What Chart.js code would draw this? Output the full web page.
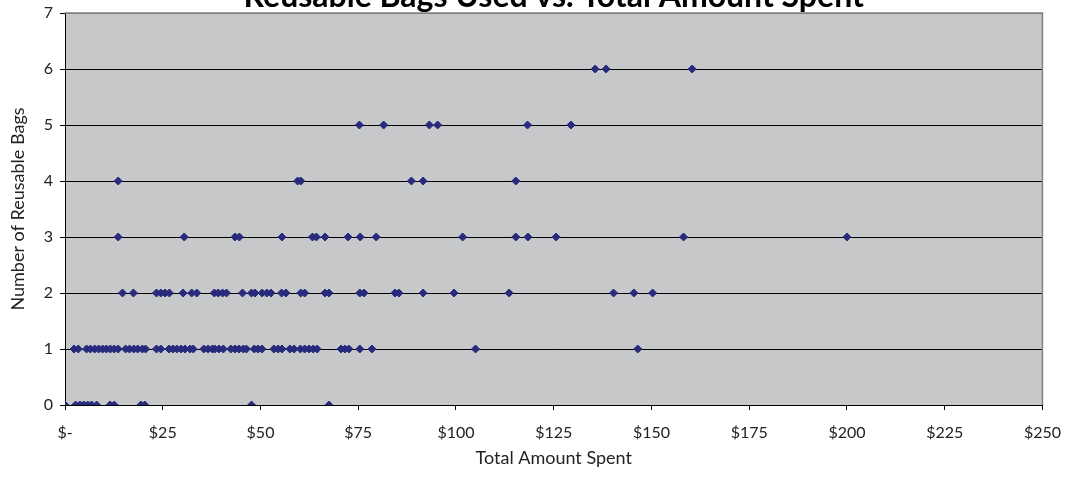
<!DOCTYPE html>
<html>
<head>
<meta charset="utf-8">
<script src="https://cdn.jsdelivr.net/npm/chart.js@4/dist/chart.umd.min.js"></script>
<style>
  html, body { margin: 0; padding: 0; background: #fff; overflow: hidden; }
  body { width: 1070px; height: 479px; position: relative; }
  #wrap { position: absolute; left: 0; top: -19px; width: 1074px; height: 498px; }
</style>
</head>
<body>
<div id="wrap"><canvas id="bags-chart"></canvas></div>
<script>
// amount spent ($) for each shopper, grouped by how many reusable bags they used
var bags0 = [0, 2.7, 3.8, 4.8, 5.8, 6.8, 8.1, 11.5, 12.6, 19.4, 20.4, 47.7, 67.5];
var bags1 = [2.3, 3.4, 5.5, 6.5, 7.6, 8.6, 9.6, 10.6, 11.6, 12.6, 13.6, 15.5, 16.5, 17.6, 18.6,
  19.8, 20.6, 23.4, 24.5, 26.6, 27.6, 28.6, 29.7, 30.7, 32, 32.8, 35.5, 36.6, 37.7, 38.3, 39.4,
  40.5, 42.4, 43.5, 44.5, 45.6, 46.4, 48.4, 49.4, 50.4, 53.4, 54.5, 55.5, 57.5, 58.6, 60.2, 61.3,
  62.4, 63.5, 64.5, 70.6, 71.6, 72.6, 75.4, 78.5, 105, 146.5];
var bags2 = [14.7, 17.5, 23.4, 24.5, 25.6, 26.7, 30.2, 32.4, 33.7, 38.2, 39.2, 40.3, 41.3, 45.4,
  47.7, 48.6, 50.4, 51.6, 52.7, 55.4, 56.5, 60.3, 61.3, 66.5, 67.5, 75.4, 76.5, 84.4, 85.4, 91.6,
  99.5, 113.6, 140.3, 145.5, 150.3];
var bags3 = [13.6, 30.5, 43.5, 44.6, 55.5, 63.3, 64.3, 66.5, 72.4, 75.5, 79.6, 101.7, 115.3,
  118.4, 125.6, 158.2, 200];
var bags4 = [13.6, 59.5, 60.3, 88.6, 91.6, 115.3];
var bags5 = [75.3, 81.5, 93.2, 95.3, 118.3, 129.4];
var bags6 = [135.6, 138.4, 160.4];

var bagGroups = [bags0, bags1, bags2, bags3, bags4, bags5, bags6];

var points = [];
bagGroups.forEach(function (amounts, count) {
  amounts.forEach(function (amt) {
    points.push({ x: amt, y: count });
  });
});

var FONT = "Lato, 'Open Sans', sans-serif";

// grey plot area + grey frame on top/right, like the old spreadsheet chart
var plotBackground = {
  id: "plotBackground",
  beforeDraw: function (chart) {
    var a = chart.chartArea, ctx = chart.ctx;
    ctx.save();
    ctx.fillStyle = "#c7c8ca";
    ctx.fillRect(a.left, a.top, a.right - a.left, a.bottom - a.top);
    ctx.restore();
  },
  afterDatasetsDraw: function (chart) {
    var a = chart.chartArea, ctx = chart.ctx;
    ctx.save();
    ctx.strokeStyle = "#808080";
    ctx.lineWidth = 1.5;
    ctx.beginPath();
    ctx.moveTo(a.left, a.top);
    ctx.lineTo(a.right, a.top);
    ctx.lineTo(a.right, a.bottom);
    ctx.stroke();
    ctx.restore();
  }
};

var ctx = document.getElementById("bags-chart").getContext("2d");
window.bagsChart = new Chart(ctx, {
  type: "scatter",
  data: {
    datasets: [
      {
        label: "Reusable Bags",
        data: points,
        pointStyle: "rectRot",
        pointRadius: 4,
        pointBorderWidth: 1,
        backgroundColor: "#282b7c",
        borderColor: "#282b7c"
      }
    ]
  },
  options: {
    responsive: true,
    maintainAspectRatio: false,
    animation: false,
    layout: { padding: { left: 0, right: 20, top: 0, bottom: 0 } },
    plugins: {
      legend: { display: false },
      tooltip: { enabled: false },
      title: {
        display: true,
        fullSize: false,
        text: "Reusable Bags Used vs. Total Amount Spent",
        color: "#000",
        font: { family: FONT, size: 32, weight: "bold", lineHeight: 1.0 },
        padding: { top: 0, bottom: 0 }
      }
    },
    scales: {
      x: {
        type: "linear",
        min: 0,
        max: 250,
        afterFit: function (scale) { scale.height = 74; },
        ticks: {
          stepSize: 25,
          padding: 13,
          color: "#222",
          font: { family: FONT, size: 16 },
          maxRotation: 0,
          callback: function (v) { return v === 0 ? "$-" : "$" + v; }
        },
        grid: { drawOnChartArea: false, drawTicks: true, tickLength: 5, color: "#000" },
        border: { color: "#000", width: 1 },
        title: {
          display: true,
          text: "Total Amount Spent",
          color: "#222",
          font: { family: FONT, size: 18 },
          padding: { top: 10, bottom: 10 }
        }
      },
      y: {
        min: 0,
        max: 7,
        afterFit: function (scale) { scale.width = 65; },
        ticks: {
          stepSize: 1,
          padding: 7,
          color: "#222",
          font: { family: FONT, size: 16 }
        },
        grid: {
          color: function (c) { return c.tick && c.tick.value === 7 ? "#808080" : "#000"; },
          lineWidth: 1,
          tickLength: 5,
          tickColor: "#000"
        },
        border: { color: "#000", width: 1 },
        title: {
          display: true,
          text: "Number of Reusable Bags",
          color: "#222",
          font: { family: FONT, size: 18 },
          padding: { top: 7, bottom: 7 }
        }
      }
    }
  },
  plugins: [plotBackground]
});
</script>
</body>
</html>
